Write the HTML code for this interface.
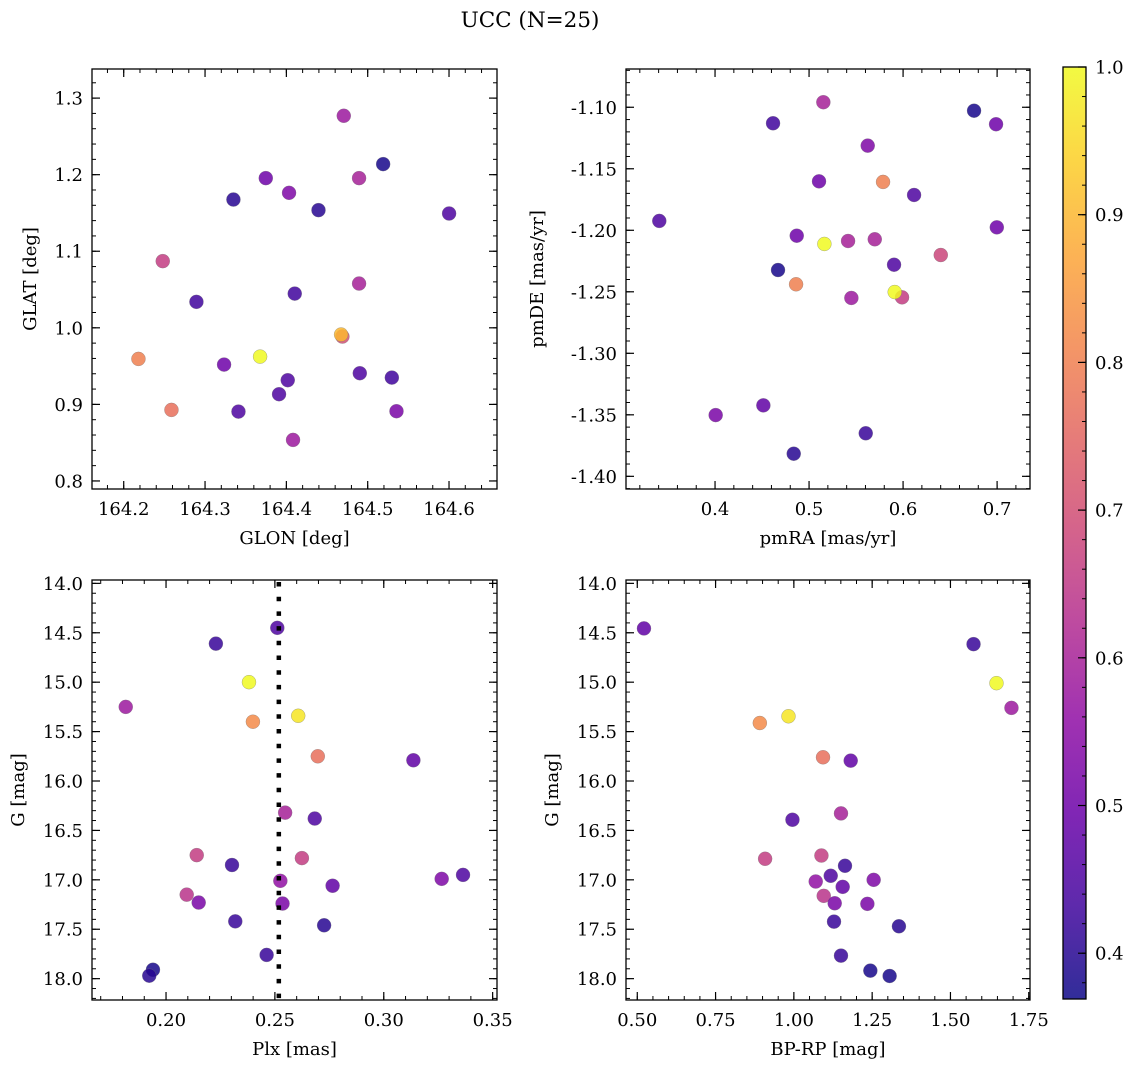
<!DOCTYPE html>
<html><head><meta charset="utf-8"><style>
html,body{margin:0;padding:0;background:#fff;}
svg{display:block;font-family:"DejaVu Serif","Liberation Serif",serif;}
</style></head><body>
<svg id="fig" width="1136" height="1067" viewBox="0 0 1136 1067" xmlns="http://www.w3.org/2000/svg">
<rect width="1136" height="1067" fill="#fff"/>
<text x="530" y="27" font-size="21.5" text-anchor="middle">UCC (N=25)</text>
</svg>
<script>
// ---- Data (probability colour values per panel) ----
const glon = [164.4706,164.519,164.3747,164.4894,164.4033,164.3349,164.4395,164.6001,164.248,164.4894,164.4103,164.2894,164.4689,164.4673,164.2181,164.3677,164.3234,164.4903,164.5297,164.4017,164.391,164.2587,164.3411,164.5354,164.4082];
const glat = [1.2769,1.2138,1.1955,1.1955,1.1763,1.1675,1.1537,1.1493,1.0871,1.0578,1.0447,1.0339,0.9886,0.9912,0.9594,0.9624,0.952,0.9407,0.935,0.9316,0.9133,0.8928,0.8906,0.8911,0.8536];
const probA = [0.58,0.38,0.5,0.6,0.53,0.4,0.4,0.45,0.66,0.6,0.43,0.43,0.7,0.9,0.8,1.0,0.5,0.45,0.43,0.45,0.45,0.77,0.45,0.52,0.58];

const pmra = [0.5152,0.6755,0.4617,0.6989,0.5624,0.5106,0.5787,0.6117,0.3407,0.6997,0.4869,0.5163,0.5415,0.5699,0.6401,0.467,0.5904,0.4862,0.5989,0.5911,0.545,0.4514,0.4007,0.5603,0.4837];
const pmde = [-1.0959,-1.1028,-1.1130,-1.1138,-1.1312,-1.1602,-1.1607,-1.1713,-1.1924,-1.1976,-1.2044,-1.2111,-1.2087,-1.2073,-1.2201,-1.2323,-1.228,-1.2439,-1.2545,-1.2502,-1.255,-1.3423,-1.3502,-1.3650,-1.3816];
const probB = [0.6,0.38,0.43,0.5,0.53,0.5,0.8,0.45,0.45,0.5,0.5,1.0,0.6,0.6,0.68,0.38,0.45,0.8,0.66,1.0,0.58,0.48,0.52,0.42,0.4];

const plx = [0.2511,0.2229,0.2381,0.1815,0.2399,0.2607,0.2697,0.3136,0.2547,0.2683,0.2141,0.2303,0.2624,0.2525,0.3266,0.3364,0.2765,0.2095,0.2150,0.2535,0.2318,0.2726,0.2462,0.1940,0.1923];
const gmagC = [14.45,14.61,15.00,15.25,15.40,15.34,15.75,15.79,16.32,16.38,16.75,16.85,16.78,17.01,16.99,16.95,17.06,17.15,17.23,17.24,17.42,17.46,17.76,17.91,17.97];
const probC = [0.45,0.42,1.0,0.58,0.82,0.97,0.77,0.48,0.6,0.45,0.66,0.42,0.66,0.56,0.53,0.45,0.48,0.64,0.52,0.52,0.42,0.40,0.42,0.38,0.40];
const plxLine = [0.2518];

const bprp = [0.5214,1.5737,1.647,1.6948,0.8913,0.9828,1.0931,1.1815,1.1505,0.9955,1.088,0.9082,1.1633,1.1177,1.0698,1.2548,1.1559,1.0954,1.1304,1.2347,1.1282,1.3355,1.1505,1.2442,1.3058];
const gmagD = [14.456,14.615,15.01,15.26,15.413,15.345,15.76,15.794,16.328,16.392,16.754,16.787,16.858,16.959,17.017,17.0,17.071,17.162,17.237,17.243,17.423,17.470,17.767,17.919,17.973];
const probD = [0.48,0.42,1.0,0.58,0.82,0.97,0.77,0.48,0.6,0.45,0.66,0.66,0.42,0.45,0.56,0.53,0.48,0.64,0.52,0.52,0.42,0.40,0.42,0.38,0.38];

const cbarTicks = [0.4,0.5,0.6,0.7,0.8,0.9,1.0];
const cmin = 0.369, cmax = 1.0;

// ---- helpers ----
const NS = "http://www.w3.org/2000/svg";
const svg = document.getElementById('fig');
const FS = 18;
function mk(tag, attrs, parent){ const e=document.createElementNS(NS,tag); for(const k in attrs) e.setAttribute(k,attrs[k]); (parent||svg).appendChild(e); return e; }
const plasma = [[13,8,135],[65,4,157],[106,0,168],[143,13,164],[177,42,144],[204,71,120],[225,100,98],[242,132,75],[252,166,54],[252,206,37],[240,249,33]];
function cmap(v){ let t=(v-cmin)/(cmax-cmin); t=Math.max(0,Math.min(1,t)); const f=t*10, i=Math.min(9,Math.floor(f)), r=f-i; const a=plasma[i], b=plasma[i+1]; return 'rgb('+[0,1,2].map(k=>Math.round(a[k]+(b[k]-a[k])*r)).join(',')+')'; }

function panel(cfg, xs, ys, cs){
  const g = mk('g',{});
  
  
  const {L,R,T,B} = cfg;
  const sx = v => L + (v-cfg.x0)/(cfg.x1-cfg.x0)*(R-L);
  const sy = v => cfg.yinv ? T + (v-cfg.y0)/(cfg.y1-cfg.y0)*(B-T) : B - (v-cfg.y0)/(cfg.y1-cfg.y0)*(B-T);
  for(let i=0;i<xs.length;i++){
    const c = mk('circle',{cx:sx(xs[i]),cy:sy(ys[i]),r:7,fill:cmap(cs[i]),'fill-opacity':0.85,stroke:'#777','stroke-width':0.5,'stroke-opacity':0.6},g);
    
    
  }
  if(cfg.vline){
    const ln = mk('line',{x1:sx(cfg.vline[0]),x2:sx(cfg.vline[0]),y1:T+2,y2:B,stroke:'#000','stroke-width':4.5,'stroke-dasharray':'4.5 10.2'},g);
    
    
  }
  const eps=1e-9;
  function ticks(a0,a1,step){ const out=[]; let s=Math.ceil(a0/step-eps)*step; for(let v=s; v<=a1+eps; v+=step) out.push(+v.toFixed(6)); return out; }
  const lo=(a,b)=>Math.min(a,b), hi=(a,b)=>Math.max(a,b);
  ticks(lo(cfg.x0,cfg.x1),hi(cfg.x0,cfg.x1),cfg.xminor).forEach(v=>{ const x=sx(v); mk('line',{x1:x,x2:x,y1:B,y2:B-4,stroke:'#000','stroke-width':1},g); mk('line',{x1:x,x2:x,y1:T,y2:T+4,stroke:'#000','stroke-width':1},g); });
  ticks(lo(cfg.y0,cfg.y1),hi(cfg.y0,cfg.y1),cfg.yminor).forEach(v=>{ const y=sy(v); mk('line',{x1:L,x2:L+4,y1:y,y2:y,stroke:'#000','stroke-width':1},g); mk('line',{x1:R,x2:R-4,y1:y,y2:y,stroke:'#000','stroke-width':1},g); });
  ticks(lo(cfg.x0,cfg.x1),hi(cfg.x0,cfg.x1),cfg.xmajor).forEach(v=>{ const x=sx(v); mk('line',{x1:x,x2:x,y1:B,y2:B-8,stroke:'#000','stroke-width':1.2},g); mk('line',{x1:x,x2:x,y1:T,y2:T+8,stroke:'#000','stroke-width':1.2},g);
    const t=mk('text',{x:x,y:B+26,'font-size':FS,'text-anchor':'middle'},g); t.textContent=v.toFixed(cfg.xdec);
      });
  ticks(lo(cfg.y0,cfg.y1),hi(cfg.y0,cfg.y1),cfg.ymajor).forEach(v=>{ const y=sy(v); mk('line',{x1:L,x2:L+8,y1:y,y2:y,stroke:'#000','stroke-width':1.2},g); mk('line',{x1:R,x2:R-8,y1:y,y2:y,stroke:'#000','stroke-width':1.2},g);
    const t=mk('text',{x:L-9,y:y+6.5,'font-size':FS,'text-anchor':'end'},g); t.textContent=v.toFixed(cfg.ydec);
      });
  const fr = mk('rect',{x:L,y:T,width:R-L,height:B-T,fill:'none',stroke:'#000','stroke-width':1.3},g);
   
  const xl = mk('text',{x:(L+R)/2,y:B+55,'font-size':FS,'text-anchor':'middle'},g); xl.textContent=cfg.xlabel;
   
  const yl = mk('text',{x:cfg.ylx,y:(T+B)/2,'font-size':FS,'text-anchor':'middle',transform:'rotate(-90 '+cfg.ylx+' '+((T+B)/2)+')'},g); yl.textContent=cfg.ylabel;
   
}

panel({name:'glon-glat-panel',L:92,R:497,T:69,B:489,x0:164.161,x1:164.659,y0:0.7895,y1:1.338,xmajor:0.1,xminor:0.02,ymajor:0.1,yminor:0.02,xdec:1,ydec:1,xlabel:'GLON [deg]',ylabel:'GLAT [deg]',ylx:36}, glon, glat, probA);
panel({name:'pm-panel',L:626,R:1030,T:69,B:489,x0:0.3053,x1:0.735,y0:-1.4103,y1:-1.0689,xmajor:0.1,xminor:0.02,ymajor:0.05,yminor:0.01,xdec:1,ydec:2,xlabel:'pmRA [mas/yr]',ylabel:'pmDE [mas/yr]',ylx:543}, pmra, pmde, probB);
panel({name:'plx-g-panel',L:92,R:497,T:580,B:1000,x0:0.166,x1:0.352,y0:13.966,y1:18.216,yinv:true,xmajor:0.05,xminor:0.01,ymajor:0.5,yminor:0.1,xdec:2,ydec:1,xlabel:'Plx [mas]',ylabel:'G [mag]',ylx:24,vline:plxLine}, plx, gmagC, probC);
panel({name:'cmd-panel',L:626,R:1030,T:580,B:1000,x0:0.464,x1:1.754,y0:13.966,y1:18.216,yinv:true,xmajor:0.25,xminor:0.05,ymajor:0.5,yminor:0.1,xdec:2,ydec:1,xlabel:'BP-RP [mag]',ylabel:'G [mag]',ylx:558}, bprp, gmagD, probD);

// ---- colorbar ----
const cb = mk('g',{});


const CL=1063, CR=1086, CT=67, CB=999;
const cy = v => CB - (v-cmin)/(cmax-cmin)*(CB-CT);
const defs = mk('defs',{},cb);
const grad = mk('linearGradient',{id:'pl',x1:0,y1:1,x2:0,y2:0},defs);
for(let k=0;k<=20;k++){ const v=cmin+(cmax-cmin)*k/20; mk('stop',{offset:(k/20),'stop-color':cmap(v),'stop-opacity':0.85},grad); }
mk('rect',{x:CL,y:CT,width:CR-CL,height:CB-CT,fill:'url(#pl)'},cb);
for(let v=0.38; v<=1.0001; v+=0.02){ const y=cy(v); mk('line',{x1:CR,x2:CR-4,y1:y,y2:y,stroke:'#000','stroke-width':1},cb); }
cbarTicks.forEach(v=>{ const y=cy(v); mk('line',{x1:CR,x2:CR-8,y1:y,y2:y,stroke:'#000','stroke-width':1.2},cb);
  const t=mk('text',{x:CR+9,y:y+6.5,'font-size':FS},cb); t.textContent=v.toFixed(1);
    });
mk('rect',{x:CL,y:CT,width:CR-CL,height:CB-CT,fill:'none',stroke:'#000','stroke-width':1.3},cb);
</script>
</body></html>
